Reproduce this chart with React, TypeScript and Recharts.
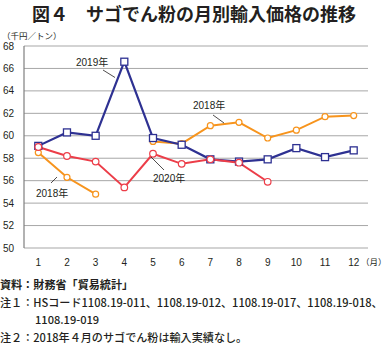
import React from 'react';
import { LineChart, Line, XAxis, YAxis, CartesianGrid } from 'recharts';

// months on the x axis
const months = ['1', '2', '3', '4', '5', '6', '7', '8', '9', '10', '11', '12'];

// import prices, thousand yen per ton
const y2018 = [58.5, 56.3, 54.8, null, 59.5, 59.3, 60.9, 61.2, 59.8, 60.5, 61.7, 61.8];
const y2019 = [59.1, 60.3, 60.0, 66.6, 59.8, 59.2, 57.9, 57.7, 57.9, 58.9, 58.1, 58.7];
const y2020 = [59.0, 58.2, 57.7, 55.4, 58.4, 57.5, 57.9, 57.6, 55.9, null, null, null];

const yTicks = [50, 52, 54, 56, 58, 60, 62, 64, 66, 68];

const notes = [
  '資料：財務省「貿易統計」',
  '注１：HSコード1108.19-011、1108.19-012、1108.19-017、1108.19-018、',
  '1108.19-019',
  '注２：2018年４月のサゴでん粉は輸入実績なし。',
];

const data = months.map((m, i) => ({
  month: m,
  y2018: y2018[i],
  y2019: y2019[i],
  y2020: y2020[i],
}));

const BLUE = '#2e3192';
const ORANGE = '#f7941d';
const RED = '#ec3d48';
const JP = '"Noto Sans CJK JP", sans-serif';
const NUM = '"Liberation Sans", "Noto Sans CJK JP", sans-serif';

// hollow square marker for the 2019 series
const SquareDot = (props: any) => {
  const { cx, cy } = props;
  if (cx == null || cy == null || props.value == null) return null;
  return <rect x={cx - 3.5} y={cy - 3.5} width={7} height={7} fill="#fff" stroke={BLUE} strokeWidth={1.3} />;
};

// series labels with their leader lines
const annotations = [
  { text: '2019年', x: 76, y: 66, line: [103, 70, 115, 77.5] },
  { text: '2018年', x: 193, y: 109, line: [213, 115, 224, 123] },
  { text: '2020年', x: 153, y: 182, line: [151, 157, 164, 170] },
  { text: '2018年', x: 36, y: 197, line: [51, 183, 57, 177] },
];

export default function App() {
  return (
    <div style={{ position: 'absolute', left: 0, top: 0, width: 388, height: 344, background: '#fff', overflow: 'hidden' }}>
      <div style={{ position: 'absolute', left: 0, top: 2, width: 388, textAlign: 'center', fontFamily: JP, fontWeight: 700, fontSize: 18, lineHeight: '22px', color: '#231f20' }}>
        図４　サゴでん粉の月別輸入価格の推移
      </div>
      <div style={{ position: 'absolute', left: 2, top: 30, fontFamily: JP, fontSize: 8.5, lineHeight: '11px', color: '#231f20' }}>
        （千円／トン）
      </div>

      <div style={{ position: 'absolute', left: 0, top: 0 }}>
        <LineChart width={388} height={272} data={data} margin={{ top: 46, right: 20, left: 0, bottom: 0 }}>
          <CartesianGrid vertical={false} stroke="#a7a7a7" strokeWidth={1} />
          <XAxis
            dataKey="month"
            height={24}
            padding={{ left: 14.3, right: 14.3 }}
            axisLine={false}
            tickLine={false}
            tickMargin={5}
            interval={0}
            tick={{ fontSize: 10, fill: '#231f20', fontFamily: NUM }}
          />
          <YAxis
            width={24}
            domain={[50, 68]}
            ticks={yTicks}
            interval={0}
            axisLine={{ stroke: '#7f7f7f', strokeWidth: 1.2 }}
            tickLine={false}
            tickMargin={4}
            tick={{ fontSize: 10, fill: '#231f20', fontFamily: NUM }}
          />
          <Line
            dataKey="y2018"
            stroke={ORANGE}
            strokeWidth={2}
            dot={{ r: 3, fill: '#fff', stroke: ORANGE, strokeWidth: 1.2 }}
            isAnimationActive={false}
          />
          <Line
            dataKey="y2019"
            stroke={BLUE}
            strokeWidth={2.2}
            dot={<SquareDot />}
            isAnimationActive={false}
          />
          <Line
            dataKey="y2020"
            stroke={RED}
            strokeWidth={2}
            dot={{ r: 3.3, fill: '#fff', stroke: RED, strokeWidth: 1.2 }}
            isAnimationActive={false}
          />
        </LineChart>
      </div>

      <svg width={388} height={344} style={{ position: 'absolute', left: 0, top: 0, pointerEvents: 'none' }}>
        {annotations.map((a, i) => (
          <g key={i}>
            <line x1={a.line[0]} y1={a.line[1]} x2={a.line[2]} y2={a.line[3]} stroke="#231f20" strokeWidth={0.8} />
            <text x={a.x} y={a.y} fontSize={10} fontFamily={NUM} fill="#231f20">{a.text}</text>
          </g>
        ))}
        <text x={361} y={265} fontSize={8.5} fontFamily={JP} fill="#231f20">（月）</text>
      </svg>

      <div style={{ position: 'absolute', left: 0, top: 276, fontFamily: JP, fontSize: 11.1, lineHeight: '17.7px', color: '#231f20', whiteSpace: 'nowrap' }}>
        <div style={{ fontWeight: 700 }}>{notes[0]}</div>
        <div style={{ fontWeight: 500 }}>{notes[1]}</div>
        <div style={{ fontWeight: 500, paddingLeft: 35 }}>{notes[2]}</div>
        <div style={{ fontWeight: 500 }}>{notes[3]}</div>
      </div>
    </div>
  );
}
